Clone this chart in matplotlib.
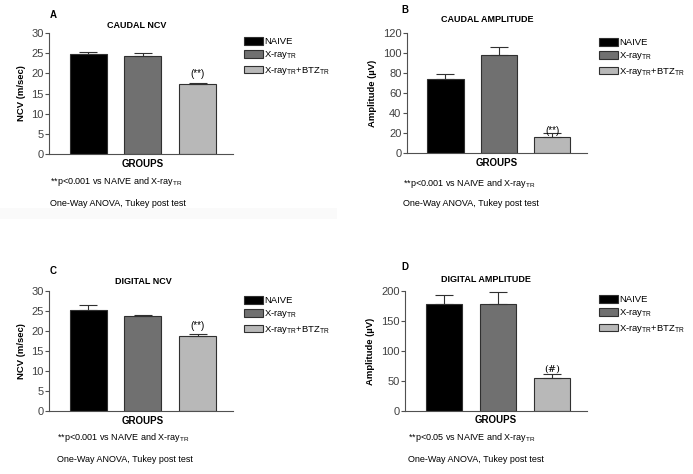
import matplotlib.pyplot as plt
from matplotlib.patches import Rectangle

plt.rcParams['font.family'] = ['Liberation Sans', 'DejaVu Sans']
plt.rcParams['mathtext.fontset'] = 'custom'
plt.rcParams['mathtext.rm'] = 'Liberation Sans'

groups = ['NAIVE', r'X-ray$_{\rm TR}$', r'X-ray$_{\rm TR}$+BTZ$_{\rm TR}$']
colors = ['#000000', '#707070', '#b8b8b8']

caudal_ncv = [24.8, 24.2, 17.4]
caudal_ncv_err = [0.5, 0.9, 0.3]
caudal_amp = [73.5, 98.0, 16.5]
caudal_amp_err = [5.0, 8.0, 4.0]
digital_ncv = [25.3, 23.8, 18.8]
digital_ncv_err = [1.2, 0.15, 0.4]
digital_amp = [179.0, 179.0, 55.0]
digital_amp_err = [15.0, 20.0, 6.0]

W, H = 693, 474
fig = plt.figure(figsize=(W / 100, H / 100), dpi=100)
fig.patch.set_facecolor('white')

# faint grey strip under panel A (from the original scan)
fig.patches.append(Rectangle((0, 1 - 219 / H), 337 / W, 11 / H, transform=fig.transFigure,
                             facecolor='#fafafa', edgecolor='none', zorder=0))


def px(x, y):
    return x / W, 1 - y / H


def panel(box, vals, errs, ylim, yticks, ylabel, letter, title, note, mark,
          mark_y, leg_xy, txt):
    left, right, top, bottom = box
    ax = fig.add_axes([left / W, 1 - bottom / H, (right - left) / W, (bottom - top) / H])
    bars = ax.bar(range(3), vals, width=0.68, color=colors, edgecolor='#303030', linewidth=0.8,
                  yerr=[[0, 0, 0], errs], error_kw=dict(ecolor='#303030', elinewidth=0.8,
                                                       capsize=6.5, capthick=0.8))
    ax.set_xlim(-0.72, 2.65)
    ax.set_ylim(*ylim)
    ax.set_yticks(yticks)
    ax.set_xticks([])
    for s in ['top', 'right']:
        ax.spines[s].set_visible(False)
    for s in ['left', 'bottom']:
        ax.spines[s].set_color('#505050')
        ax.spines[s].set_linewidth(0.8)
    ax.tick_params(axis='y', labelsize=8, length=3, width=0.8, color='#505050',
                   labelcolor='#404040', pad=1)
    ax.set_ylabel(ylabel, fontsize=6.8, fontweight='bold', labelpad=4)
    ax.text(2, mark_y, mark, ha='center', va='bottom', fontsize=7,
            family='DejaVu Serif' if mark == '(#)' else None)

    gx, gy = txt['groups']
    fig.text(*px(gx, gy), 'GROUPS', ha='center', va='center', fontsize=7, fontweight='bold')
    tx, ty = txt['title']
    fig.text(*px(tx, ty), title, ha='center', va='center', fontsize=6.5, fontweight='bold')
    lx, ly = txt['letter']
    fig.text(*px(lx, ly), letter, ha='left', va='center', fontsize=7, fontweight='bold')
    nx, ny1, ny2 = txt['notes']
    fig.text(*px(nx, ny1), note, ha='left', va='center', fontsize=6.5)
    fig.text(*px(nx, ny2), 'One-Way ANOVA, Tukey post test', ha='left', va='center', fontsize=6.5)

    fig.legend(bars, groups, loc='upper left', bbox_to_anchor=px(*leg_xy), frameon=False,
               fontsize=6.8, handlelength=2.0, handleheight=0.9, handletextpad=0.15,
               labelspacing=0.35, borderpad=0, borderaxespad=0)
    return ax


note1 = r'**p<0.001 vs NAIVE and X-ray$_{\rm TR}$'
note2 = r'**p<0.05 vs NAIVE and X-ray$_{\rm TR}$'

panel((49, 233, 33, 154), caudal_ncv, caudal_ncv_err, (0, 30), range(0, 31, 5),
      'NCV (m/sec)', 'A', 'CAUDAL NCV', note1, '(**)', 18.6, (244, 37),
      dict(groups=(143, 164), title=(137, 26), letter=(50, 15), notes=(50, 182, 203)))

panel((407, 587, 33, 153), caudal_amp, caudal_amp_err, (0, 120), range(0, 121, 20),
      'Amplitude (\u00b5V)', 'B', 'CAUDAL AMPLITUDE', note1, '(**)', 16.5, (599, 38),
      dict(groups=(497, 163), title=(487, 19), letter=(401, 10), notes=(403, 183, 203)))

panel((49, 233, 291, 411), digital_ncv, digital_ncv_err, (0, 30), range(0, 31, 5),
      'NCV (m/sec)', 'C', 'DIGITAL NCV', note1, '(**)', 20.0, (244, 296),
      dict(groups=(143, 421), title=(143, 282), letter=(50, 271), notes=(57, 437, 460)))

panel((405, 587, 291, 411), digital_amp, digital_amp_err, (0, 200), range(0, 201, 50),
      'Amplitude (\u00b5V)', 'D', 'DIGITAL AMPLITUDE', note2, '(#)', 62, (599, 295),
      dict(groups=(496, 420), title=(486, 280), letter=(401, 267), notes=(408, 437, 460)))

fig.savefig('out.png', dpi=100)
